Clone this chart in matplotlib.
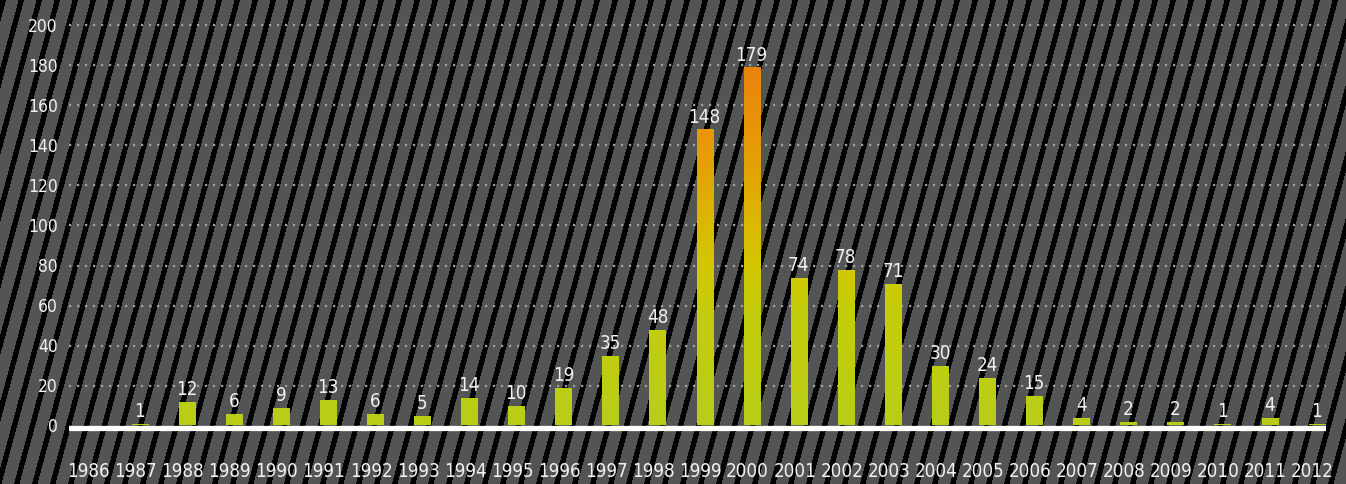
import numpy as np
import matplotlib
matplotlib.use("Agg")
import matplotlib.pyplot as plt
import matplotlib.transforms as mtransforms
from matplotlib.colors import LinearSegmentedColormap
from matplotlib import font_manager

# data
years = list(range(1986, 2013))
counts = [0, 1, 12, 6, 9, 13, 6, 5, 14, 10, 19, 35, 48, 148, 179,
          74, 78, 71, 30, 24, 15, 4, 2, 2, 1, 4, 1]
y_ticks = [0, 20, 40, 60, 80, 100, 120, 140, 160, 180, 200]

# pick a narrow face if one is there
cond = [f for f in font_manager.fontManager.ttflist
        if 'Condensed' in f.fname or 'Narrow' in f.fname]
FONT = ['DejaVu Sans']
STRETCH = 'normal'
for f in cond:
    if 'Light' not in f.fname and 'Bold' not in f.fname and 'Oblique' not in f.fname:
        FONT = [f.name, 'DejaVu Sans']
        STRETCH = f.stretch
        break
TXT = '#f2f2f2'

W, H = 1346, 484
fig = plt.figure(figsize=(W / 100, H / 100), dpi=100)

# striped backdrop
bg = fig.add_axes([0, 0, 1, 1], zorder=-5)
yy, xx = np.mgrid[0:H, 0:W]
stripes = ((xx + 0.27 * yy) % 18.0) < 5.5
img = np.empty((H, W, 3))
img[:] = np.array([0x53, 0x54, 0x54]) / 255.0
img[stripes] = 0.0
bg.imshow(img, aspect='auto', interpolation='nearest')
bg.axis('off')

# main axes
ax = fig.add_axes([69 / W, (H - 431.5) / H, 1257 / W, 416 / H])
ax.patch.set_alpha(0)

bars = ax.bar(years, counts, width=0.34, color='none', zorder=3)

# colour of the bars depends on the height (green -> yellow -> orange)
cmap = LinearSegmentedColormap.from_list('bars', [
    (0.0, '#b9cd18'), (55 / 180, '#c4cd0c'), (80 / 180, '#d3c700'),
    (105 / 180, '#dcb500'), (140 / 180, '#e69a06'), (1.0, '#eb820f')])
grad = np.linspace(0, 1, 256).reshape(-1, 1)
for b in bars:
    if b.get_height() <= 0:
        continue
    im = ax.imshow(grad, cmap=cmap, origin='lower', aspect='auto',
                   extent=[1985.5, 2012.2, 0, 180], zorder=3)
    im.set_clip_path(b)
ax.set_xlim(1985.5, 2012.2)
ax.set_ylim(-3, 205)

for x, v in zip(years, counts):
    if v > 0:
        ax.annotate(str(v), (x, v), xytext=(0, 1.5), textcoords='offset points',
                    ha='center', va='bottom', color=TXT, fontsize=13.5,
                    family=FONT, fontstretch=STRETCH, zorder=5)

# grid and baseline
for t in y_ticks[1:]:
    ax.axhline(t, color='#a0a0a0', lw=1.6, ls=(0, (1, 2.6)), zorder=1)
ax.axhline(-1.2, color='white', lw=3.8, zorder=4)

ax.set_yticks(y_ticks)
ax.set_yticklabels([str(t) for t in y_ticks], family=FONT, fontstretch=STRETCH,
                   fontsize=12.5, color=TXT)
ax.set_xticks(years)
ax.set_xticklabels([str(y) for y in years], family=FONT, fontstretch=STRETCH,
                   fontsize=13.5, color=TXT)
ax.tick_params(axis='y', length=0, pad=8)
ax.tick_params(axis='x', length=0, pad=22)
# year labels sit a little left of their bars
shift = mtransforms.ScaledTranslation(-4 / 100, 0, fig.dpi_scale_trans)
for lab in ax.get_xticklabels():
    lab.set_transform(lab.get_transform() + shift)
for s in ax.spines.values():
    s.set_visible(False)

fig.savefig('out.png', dpi=100)
